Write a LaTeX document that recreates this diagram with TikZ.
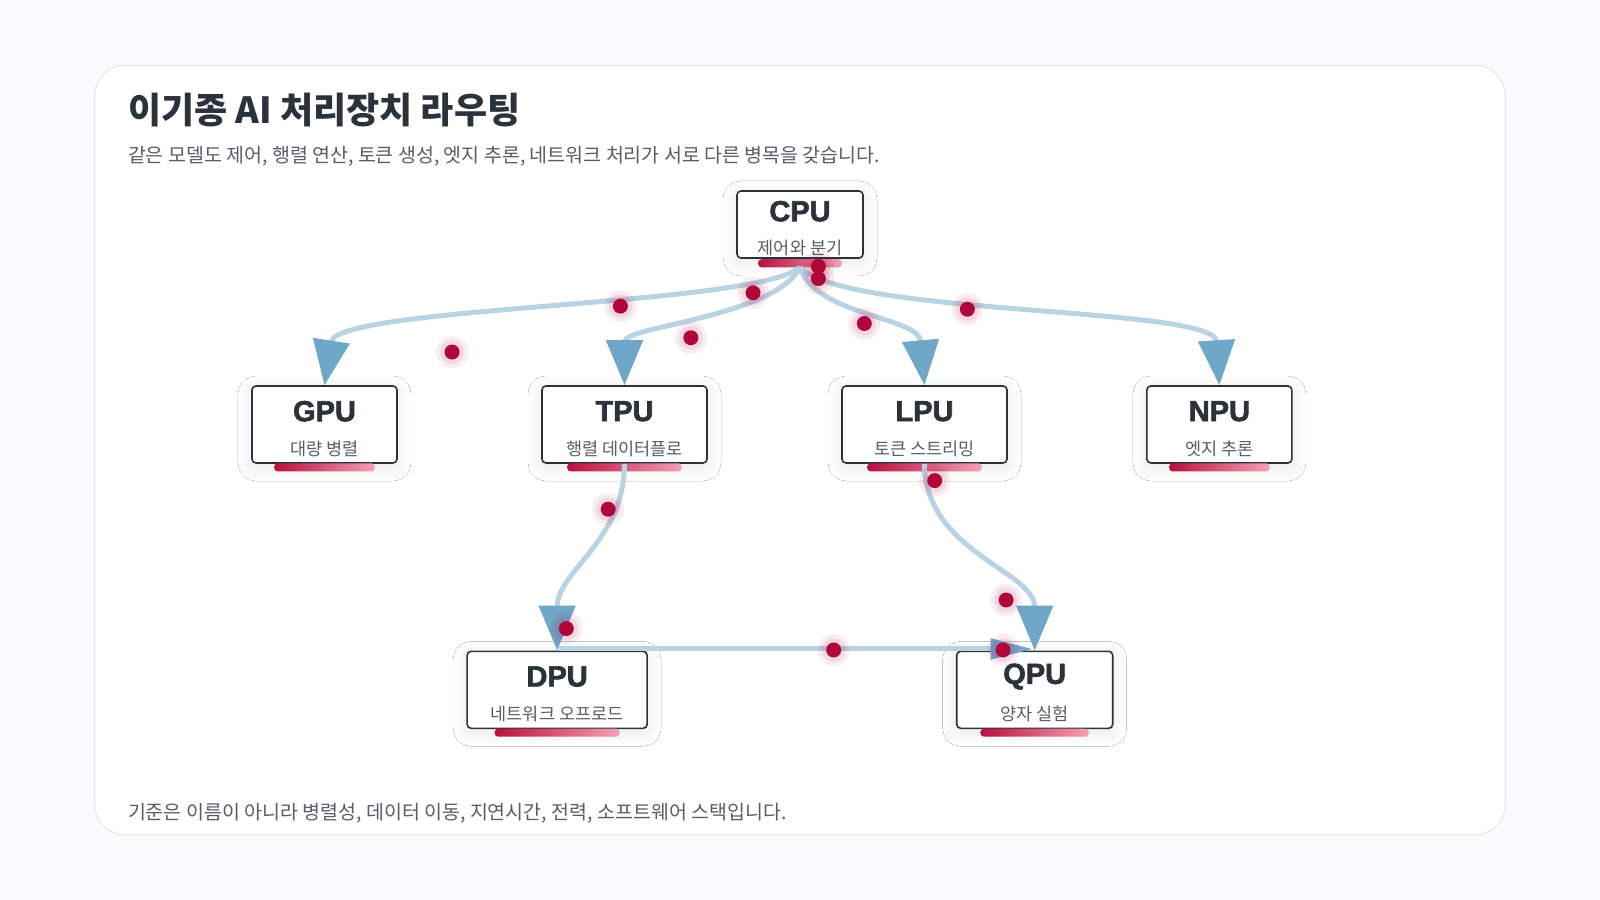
\documentclass[tikz,border=0pt]{standalone}
\usepackage{fontspec}
\setmainfont{Noto Sans CJK KR}
\newfontfamily\headf[FakeBold=2.2]{Liberation Sans}
\usetikzlibrary{arrows.meta,shadows.blur,calc}
\definecolor{bg}{HTML}{F8FAFC}
\definecolor{ink}{HTML}{2B323B}
\definecolor{sub}{HTML}{555E6A}
\definecolor{edge}{HTML}{B9D3E2}
\definecolor{tip}{HTML}{6EA7C8}
\definecolor{dot}{HTML}{B0063A}
\definecolor{barl}{HTML}{B8103F}
\definecolor{barr}{HTML}{F3A1B6}
\tikzset{
 box/.style={draw=ink,line width=1.6pt,fill=white,rounded corners=4pt,blur shadow={shadow blur steps=12,shadow blur radius=14pt,shadow xshift=0pt,shadow yshift=-4pt,shadow opacity=10}},
 lab/.style={font=\headf\fontsize{29}{30}\selectfont\bfseries,text=ink},
 sl/.style={font=\fontsize{17.5}{19}\selectfont,text=sub},
 link/.style={draw=edge,line width=5pt,-{Triangle[width=36pt,length=45pt,color=tip]}},
 pk/.style={circle,fill=dot,inner sep=0pt,minimum size=15pt},
}
\newcommand{\unit}[6]{% name, x, y, w, label, sub
 \node[box,minimum width=#4pt,minimum height=77pt] (#1) at (#2,#3) {};
 \shade[left color=barl,right color=barr,rounded corners=3.5pt] ($(#2,#3)+(-0.34*#4,38)$) rectangle ($(#2,#3)+(0.34*#4,46)$);
 \node[lab] (#1l) at (#2,#3-13) {#5};
 \node[sl] (#1s) at (#2,#3+24) {#6};
}
\begin{document}
\begin{tikzpicture}[x=1.0204pt,y=-1.0204pt]
\fill[bg] (0,0) rectangle (1568,882);
\useasboundingbox (0,0) rectangle (1568,882);
\draw[fill=white,draw=black!10,line width=1pt,rounded corners=30pt] (93,64) rectangle (1475,818);
\node[anchor=west,font=\fontsize{36}{38}\selectfont\bfseries,text=ink] (title) at (122,108) {이기종 AI 처리장치 라우팅};
\node[anchor=west,font=\fontsize{19.5}{21}\selectfont,text=sub] (subt) at (122,153) {같은 모델도 제어, 행렬 연산, 토큰 생성, 엣지 추론, 네트워크 처리가 서로 다른 병목을 갖습니다.};
\node[anchor=west,font=\fontsize{19.5}{21}\selectfont,text=sub] (foot) at (122,797) {기준은 이름이 아니라 병렬성, 데이터 이동, 지연시간, 전력, 소프트웨어 스택입니다.};

\node[box,minimum width=126pt,minimum height=67pt] (cpu) at (784,220) {};
\shade[left color=barl,right color=barr,rounded corners=3.5pt] (743,254) rectangle (825,262);
\node[lab] (cpul) at (784,207) {CPU};
\node[sl] (cpus) at (784,243) {제어와 분기};

\unit{gpu}{318}{416}{145}{GPU}{대량 병렬}
\unit{tpu}{612}{416}{165}{TPU}{행렬 데이터플로}
\unit{lpu}{906}{416}{165}{LPU}{토큰 스트리밍}
\unit{npu}{1195}{416}{145}{NPU}{엣지 추론}
\unit{dpu}{546}{676}{180}{DPU}{네트워크 오프로드}
\unit{qpu}{1014}{676}{156}{QPU}{양자 실험}

\coordinate (c0) at (784,262);
\draw[link] (c0) .. controls (740,300) and (330,300) .. (gpu.north);
\draw[link] (c0) .. controls (760,310) and (612,320) .. (tpu.north);
\draw[link] (c0) .. controls (800,310) and (900,310) .. (lpu.north);
\draw[link] (c0) .. controls (830,310) and (1190,300) .. (npu.north);
\draw[link] (tpu.south) .. controls (612,530) and (546,560) .. (dpu.north);
\draw[link] (lpu.south) .. controls (906,540) and (1014,560) .. (qpu.north);
\coordinate (dq) at (548,636);
\coordinate (qd) at (1012,636);
\draw[link,-{Triangle[width=20pt,length=42pt,color=tip]}] (dq) -- (qd);

\foreach \n/\x/\y in {p1/608/300,p2/443/345,p3/738/287,p4/677/331,p5/802/261,p6/802/273,p7/847/317,p8/948/303,p9/596/499,p10/555/616,p11/916/471,p12/986/588,p13/817/637,p14/983/637}{
 \fill[dot,opacity=0.07] (\x,\y) circle (16pt);
 \fill[dot,opacity=0.09] (\x,\y) circle (12pt);
 \node[pk] (\n) at (\x,\y) {};
}
\end{tikzpicture}
\end{document}
